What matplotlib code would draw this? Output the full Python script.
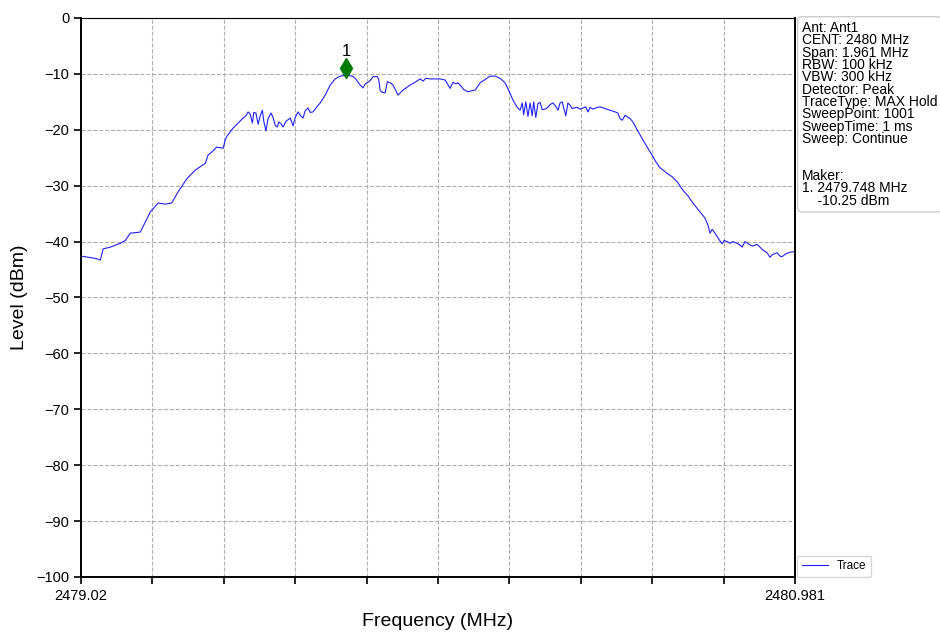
# 스펙트럼 분석기 트레이스 (MAX Hold) 재현.

import numpy as np
import matplotlib.pyplot as plt
from matplotlib.transforms import offset_copy

plt.rcParams['font.family'] = ['Liberation Sans', 'DejaVu Sans']

start_mhz = 2479.02
stop_mhz = 2480.981
sweep_points = 1001

# 트레이스에서 읽은 스윕 포인트 번호와 레벨(dBm)
sweep_idx = [0, 10, 20, 27, 31, 41, 55, 62, 69, 83, 97, 108, 118, 127, 136, 148,
             160, 174, 178, 183, 190, 199, 202, 204, 213, 220, 227, 231, 234, 237,
             240, 242, 245, 248, 251, 254, 256, 259, 262, 266, 269, 272, 275, 277,
             280, 283, 287, 293, 297, 300, 304, 307, 311, 314, 318, 321, 325, 331,
             335, 342, 349, 356, 363, 373, 380, 384, 391, 395, 398, 401, 405, 409,
             415, 417, 419, 422, 426, 429, 433, 437, 441, 444, 451, 461, 468, 475,
             479, 483, 489, 503, 510, 517, 521, 525, 528, 531, 536, 542, 548, 552,
             559, 566, 573, 580, 587, 594, 601, 605, 611, 615, 618, 620, 623, 626,
             629, 632, 634, 637, 640, 643, 646, 650, 653, 657, 661, 665, 668, 671,
             674, 676, 679, 682, 685, 688, 690, 695, 699, 703, 707, 710, 713, 717,
             723, 727, 734, 741, 748, 752, 755, 758, 762, 769, 773, 779, 787, 794,
             801, 805, 811, 821, 828, 835, 843, 850, 857, 867, 874, 878, 881, 884,
             888, 894, 898, 901, 905, 909, 913, 919, 923, 926, 930, 937, 941, 947,
             951, 955, 961, 965, 969, 975, 979, 982, 987, 993, 1000]
level = [-42.6, -42.8, -43.0, -43.3, -41.3, -41.0, -40.3, -39.8, -38.5, -38.3, -34.7,
         -33.1, -33.3, -33.1, -31.1, -28.8, -27.2, -26.0, -24.5, -24.0, -23.1, -23.3,
         -21.8, -21.2, -19.7, -18.8, -17.9, -17.5, -16.8, -17.2, -18.8, -16.9, -17.0,
         -19.0, -17.5, -16.5, -18.5, -20.2, -18.0, -17.0, -17.8, -19.2, -19.5, -18.6,
         -18.9, -19.5, -18.5, -17.9, -19.3, -17.8, -16.8, -17.4, -17.9, -16.6, -16.1,
         -16.9, -16.8, -15.8, -15.2, -13.8, -12.0, -10.9, -10.4, -10.25, -10.4, -10.8,
         -12.0, -12.5, -11.8, -11.6, -11.2, -10.5, -10.5, -11.0, -13.0, -13.3, -13.4,
         -11.4, -11.6, -12.0, -13.0, -13.8, -12.9, -12.0, -11.5, -10.9, -11.3, -10.8,
         -10.9, -10.9, -11.1, -12.6, -11.5, -11.8, -11.6, -12.0, -12.8, -13.2, -13.0,
         -12.9, -11.6, -11.0, -10.4, -10.4, -10.8, -11.6, -13.5, -14.7, -16.0, -16.5,
         -15.2, -17.3, -15.0, -17.6, -15.2, -17.5, -15.0, -17.8, -15.3, -15.1, -16.4,
         -16.3, -16.1, -15.5, -15.2, -15.8, -16.5, -15.2, -15.0, -16.0, -17.5, -15.2,
         -15.6, -16.2, -16.1, -16.0, -16.3, -16.1, -15.9, -16.8, -16.0, -16.3, -16.0,
         -15.9, -16.2, -16.5, -16.8, -17.0, -18.0, -18.3, -17.4, -18.0, -18.6, -20.0,
         -21.8, -23.3, -24.8, -25.7, -26.8, -27.8, -28.4, -29.3, -30.8, -31.8, -33.1,
         -34.7, -35.8, -37.0, -38.5, -37.8, -38.5, -39.7, -40.4, -39.8, -40.0, -40.3,
         -40.0, -40.3, -40.6, -41.0, -40.0, -40.6, -40.8, -40.5, -41.0, -41.5, -42.0,
         -42.8, -42.3, -42.0, -42.6, -42.7, -42.2, -41.9, -41.8]

marker_freq = 2479.748
marker_level = -10.25

info_lines = ['Ant: Ant1', 'CENT: 2480 MHz', 'Span: 1.961 MHz', 'RBW: 100 kHz',
              'VBW: 300 kHz', 'Detector: Peak', 'TraceType: MAX Hold',
              'SweepPoint: 1001', 'SweepTime: 1 ms', 'Sweep: Continue', '', '',
              'Maker:', '1. 2479.748 MHz', '    -10.25 dBm']

freq_axis = np.linspace(start_mhz, stop_mhz, sweep_points)
freq = freq_axis[sweep_idx]

fig = plt.figure(figsize=(9.4, 6.33), dpi=100)
ax = fig.add_axes([0.0862, 0.0885, 0.7595, 0.8831])

ax.plot(freq, level, color='#2020ff', lw=0.8, label='Trace')

# 마커 (피크 위에 약간 띄워서 표시)
mk_tr = offset_copy(ax.transData, fig=fig, y=7, units='dots')
ax.plot(marker_freq, marker_level, marker='d', color='#007a00', markersize=10,
        transform=mk_tr, zorder=5)
ax.annotate('1', (marker_freq, marker_level), xytext=(0, 12), textcoords='offset points',
            ha='center', va='bottom', fontsize=12)

ax.set_xlim(start_mhz, stop_mhz)
ax.set_ylim(-100, 0)
ax.set_yticks(np.arange(-100, 1, 10))
ax.set_xticks(np.linspace(start_mhz, stop_mhz, 11))
xlabels = [''] * 11
xlabels[0] = '2479.02'
xlabels[-1] = '2480.981'
ax.set_xticklabels(xlabels)
ax.tick_params(labelsize=10.5, length=5, width=1.2, direction='out')
ax.grid(True, ls='--', color='#b0b0b0', lw=0.8)

ax.set_xlabel('Frequency (MHz)', fontsize=14, labelpad=7)
ax.set_ylabel('Level (dBm)', fontsize=14, labelpad=6)

for side in ['left', 'bottom', 'right']:
    ax.spines[side].set_linewidth(1.4)
ax.spines['top'].set_linewidth(0.8)

fig.text(0.853, 0.967, '\n'.join(info_lines), fontsize=10, va='top', ha='left',
         linespacing=0.85,
         bbox=dict(boxstyle='round,pad=0.3', fc='white', ec='#cccccc', lw=1))

ax.legend(loc='lower left', bbox_to_anchor=(1.003, 0.0), fontsize=8.5,
          frameon=True, edgecolor='#cccccc', handlelength=2.2, borderaxespad=0)

fig.savefig('out.png', dpi=100)
